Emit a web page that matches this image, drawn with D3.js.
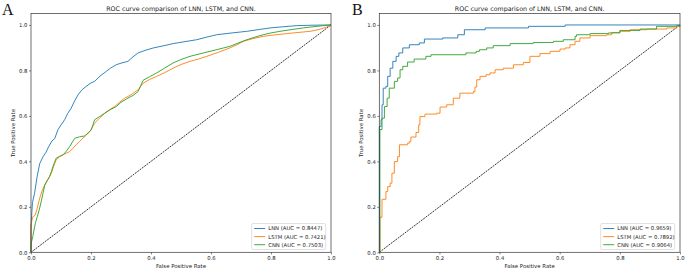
<!DOCTYPE html>
<html lang="en">
<head>
<meta charset="utf-8">
<title>ROC curve comparison</title>
<script src="https://d3js.org/d3.v7.min.js"></script>
<style>
  body { margin: 0; background: #fff; }
  svg { display: block; font-family: "DejaVu Sans", sans-serif; }
</style>
</head>
<body>
<svg width="685" height="269"></svg>
<script>
// ROC points [fpr, tpr]
const lnnA = [[0,0],[0,0.1],[0.003,0.18],[0.005,0.22],[0.012,0.26],[0.02,0.33],[0.029,0.39],[0.04,0.42],[0.05,0.44],[0.059,0.465],[0.07,0.49],[0.079,0.5],[0.09,0.54],[0.1,0.56],[0.112,0.583],[0.122,0.61],[0.134,0.634],[0.145,0.665],[0.157,0.693],[0.17,0.715],[0.184,0.73],[0.2,0.745],[0.212,0.752],[0.23,0.775],[0.251,0.796],[0.265,0.81],[0.284,0.825],[0.3,0.832],[0.323,0.84],[0.34,0.86],[0.357,0.877],[0.38,0.888],[0.408,0.899],[0.44,0.908],[0.474,0.918],[0.51,0.926],[0.552,0.935],[0.59,0.948],[0.619,0.957],[0.67,0.965],[0.719,0.972],[0.76,0.98],[0.797,0.987],[0.84,0.992],[0.886,0.997],[0.94,0.999],[1,1]];
const lstmA = [[0,0],[0,0.12],[0.005,0.154],[0.014,0.164],[0.02,0.19],[0.029,0.238],[0.037,0.27],[0.046,0.296],[0.056,0.32],[0.068,0.348],[0.076,0.38],[0.084,0.407],[0.095,0.42],[0.107,0.429],[0.118,0.436],[0.129,0.443],[0.14,0.458],[0.151,0.473],[0.162,0.488],[0.173,0.502],[0.184,0.515],[0.196,0.531],[0.212,0.568],[0.23,0.592],[0.246,0.612],[0.262,0.628],[0.279,0.641],[0.295,0.66],[0.312,0.678],[0.33,0.69],[0.357,0.715],[0.374,0.744],[0.395,0.76],[0.419,0.774],[0.445,0.79],[0.474,0.81],[0.5,0.826],[0.53,0.84],[0.558,0.85],[0.586,0.862],[0.625,0.88],[0.663,0.899],[0.685,0.912],[0.708,0.928],[0.74,0.94],[0.774,0.95],[0.81,0.956],[0.852,0.962],[0.89,0.967],[0.93,0.972],[0.96,0.98],[0.986,0.991],[1,1]];
const cnnA = [[0,0],[0,0.03],[0.002,0.047],[0.006,0.07],[0.01,0.098],[0.015,0.13],[0.021,0.157],[0.028,0.19],[0.034,0.223],[0.04,0.26],[0.046,0.296],[0.054,0.315],[0.062,0.333],[0.068,0.355],[0.073,0.377],[0.078,0.395],[0.084,0.414],[0.095,0.422],[0.107,0.429],[0.118,0.445],[0.129,0.465],[0.138,0.485],[0.146,0.502],[0.162,0.508],[0.179,0.512],[0.19,0.525],[0.201,0.539],[0.212,0.583],[0.23,0.598],[0.246,0.612],[0.265,0.628],[0.284,0.641],[0.3,0.66],[0.323,0.678],[0.34,0.69],[0.357,0.707],[0.374,0.757],[0.395,0.772],[0.419,0.789],[0.445,0.81],[0.474,0.833],[0.5,0.848],[0.53,0.862],[0.56,0.872],[0.597,0.884],[0.63,0.895],[0.663,0.906],[0.69,0.92],[0.719,0.935],[0.745,0.946],[0.774,0.957],[0.8,0.965],[0.83,0.972],[0.87,0.98],[0.908,0.987],[0.94,0.992],[0.974,0.997],[1,1]];

const lnnB = [[0,0],[0,0.553],[0.006,0.583],[0.009,0.649],[0.013,0.722],[0.022,0.73],[0.028,0.774],[0.036,0.81],[0.045,0.84],[0.056,0.862],[0.065,0.877],[0.078,0.899],[0.1,0.913],[0.133,0.921],[0.15,0.938],[0.211,0.943],[0.261,0.957],[0.283,0.979],[0.352,0.987],[0.496,0.994],[0.618,1],[1,1]];
const lstmB = [[0,0],[0.002,0.154],[0.009,0.233],[0.022,0.267],[0.028,0.289],[0.036,0.304],[0.042,0.348],[0.05,0.399],[0.061,0.421],[0.067,0.473],[0.094,0.48],[0.1,0.487],[0.105,0.507],[0.122,0.527],[0.131,0.561],[0.135,0.597],[0.152,0.608],[0.191,0.612],[0.202,0.639],[0.224,0.649],[0.246,0.678],[0.268,0.7],[0.313,0.707],[0.318,0.727],[0.324,0.759],[0.335,0.774],[0.355,0.781],[0.368,0.789],[0.385,0.803],[0.412,0.81],[0.446,0.825],[0.479,0.835],[0.501,0.862],[0.534,0.874],[0.568,0.884],[0.601,0.894],[0.618,0.899],[0.634,0.913],[0.651,0.928],[0.667,0.943],[0.701,0.953],[0.756,0.957],[0.773,0.967],[0.8,0.972],[0.834,0.979],[0.889,0.982],[0.956,0.987],[0.989,0.994],[1,1]];
const cnnB = [[0,0],[0.002,0.54],[0.009,0.59],[0.017,0.641],[0.026,0.678],[0.033,0.722],[0.05,0.752],[0.061,0.767],[0.069,0.803],[0.078,0.818],[0.094,0.837],[0.116,0.85],[0.155,0.862],[0.172,0.869],[0.288,0.877],[0.322,0.884],[0.333,0.891],[0.357,0.899],[0.379,0.909],[0.435,0.918],[0.512,0.923],[0.579,0.928],[0.612,0.935],[0.651,0.95],[0.656,0.957],[0.701,0.962],[0.762,0.965],[0.8,0.976],[0.867,0.982],[0.922,0.994],[0.989,0.998],[1,1]];

const models = ["LNN", "LSTM", "CNN"];
const aucA = ["0.8447", "0.7421", "0.7503"];
const aucB = ["0.9659", "0.7892", "0.9064"];
const ticks = [0, 0.2, 0.4, 0.6, 0.8, 1.0];
const colors = ["#1f77b4", "#ff7f0e", "#2ca02c"];

const svg = d3.select("svg");
const plotTop = 13.6, plotBottom = 252.3;

function panel(letter, left, right, curves, aucs, curveType, legendX, letterX) {
  const g = svg.append("g");
  const x = d3.scaleLinear().domain([0, 1]).range([left, right]);
  const y = d3.scaleLinear().domain([0, 1.05]).range([plotBottom, plotTop]);

  // axes
  const xAxis = d3.axisBottom(x).tickValues(ticks).tickFormat(d3.format(".1f")).tickSize(2).tickPadding(1.5);
  const yAxis = d3.axisLeft(y).tickValues(ticks).tickFormat(d3.format(".1f")).tickSize(2).tickPadding(1.5);
  g.append("g").attr("transform", `translate(0,${plotBottom})`).call(xAxis);
  g.append("g").attr("transform", `translate(${left},0)`).call(yAxis);
  g.selectAll(".domain").remove();
  g.selectAll(".tick line").attr("stroke", "#333").attr("stroke-width", 0.6);
  g.selectAll(".tick text").attr("font-size", 5.3).attr("fill", "#222")
    .attr("font-family", "DejaVu Sans");

  // diagonal
  g.append("line")
    .attr("x1", x(0)).attr("y1", y(0)).attr("x2", x(1)).attr("y2", y(1))
    .attr("stroke", "#000").attr("stroke-width", 0.8).attr("stroke-dasharray", "2,0.9");

  const line = d3.line().x(d => x(d[0])).y(d => y(d[1])).curve(curveType);
  curves.forEach((c, i) => {
    g.append("path").datum(c).attr("d", line)
      .attr("fill", "none").attr("stroke", colors[i]).attr("stroke-width", 0.9);
  });

  // frame
  g.append("rect").attr("x", left).attr("y", plotTop)
    .attr("width", right - left).attr("height", plotBottom - plotTop)
    .attr("fill", "none").attr("stroke", "#333").attr("stroke-width", 0.7);

  // title and labels
  g.append("text").attr("x", (left + right) / 2).attr("y", 10.5)
    .attr("text-anchor", "middle").attr("font-size", 6.3).attr("fill", "#222")
    .text("ROC curve comparison of LNN, LSTM, and CNN.");
  g.append("text").attr("x", (left + right) / 2).attr("y", 268)
    .attr("text-anchor", "middle").attr("font-size", 5.4).attr("fill", "#222")
    .text("False Positive Rate");
  g.append("text")
    .attr("transform", `translate(${left - 16},${(plotTop + plotBottom) / 2}) rotate(-90)`)
    .attr("text-anchor", "middle").attr("font-size", 5.4).attr("fill", "#222")
    .text("True Positive Rate");
  g.append("text").attr("x", letterX).attr("y", 14.5)
    .attr("font-family", "Liberation Serif, serif").attr("font-size", 16).attr("fill", "#111")
    .text(letter);

  // legend
  const lw = 74, lh = 26, ly = 223.5;
  const lg = g.append("g").attr("transform", `translate(${legendX},${ly})`);
  lg.append("rect").attr("width", lw).attr("height", lh).attr("rx", 1.5)
    .attr("fill", "#fff").attr("fill-opacity", 0.8).attr("stroke", "#ccc").attr("stroke-width", 0.6);
  models.forEach((m, i) => {
    const yy = 5 + i * 8.1;
    lg.append("line").attr("x1", 2.5).attr("x2", 13.5).attr("y1", yy).attr("y2", yy)
      .attr("stroke", colors[i]).attr("stroke-width", 0.9);
    lg.append("text").attr("x", 16.5).attr("y", yy + 1.9)
      .attr("font-size", 5.3).attr("fill", "#222")
      .text(`${m} (AUC = ${aucs[i]})`);
  });
}

panel("A", 31, 331, [lnnA, lstmA, cnnA], aucA, d3.curveLinear, 251.7, 2);
panel("B", 379.3, 680, [lnnB, lstmB, cnnB], aucB, d3.curveStepAfter, 600.7, 352);
</script>
</body>
</html>
